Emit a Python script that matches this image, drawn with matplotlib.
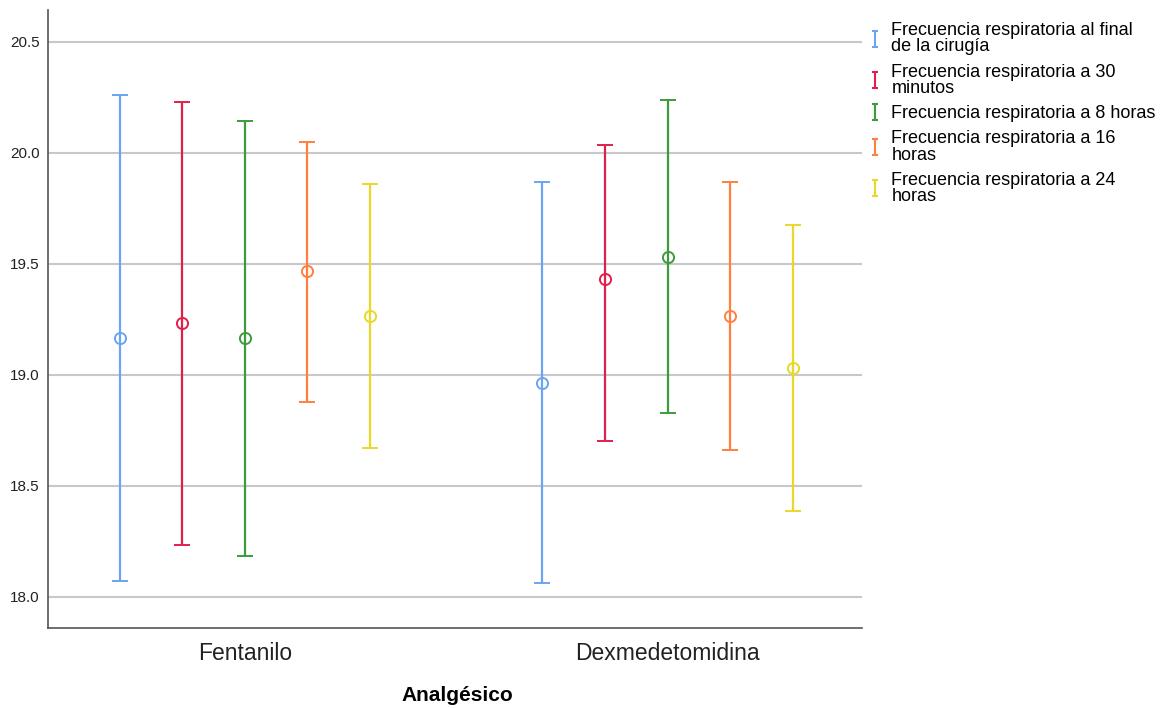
import numpy as np
import matplotlib.pyplot as plt
from matplotlib.lines import Line2D
from matplotlib.path import Path

plt.rcParams['font.family'] = ['Liberation Sans', 'DejaVu Sans']

# datos
grupos = ["Fentanilo", "Dexmedetomidina"]
series = ["Frecuencia respiratoria al final\nde la cirugía",
          "Frecuencia respiratoria a 30\nminutos",
          "Frecuencia respiratoria a 8 horas",
          "Frecuencia respiratoria a 16\nhoras",
          "Frecuencia respiratoria a 24\nhoras"]
media = [[19.167, 18.964],
         [19.234, 19.432],
         [19.167, 19.532],
         [19.468, 19.266],
         [19.266, 19.032]]
limite_sup = [[20.261, 19.869],
              [20.230, 20.036],
              [20.144, 20.239],
              [20.050, 19.869],
              [19.860, 19.676]]
limite_inf = [[18.072, 18.063],
              [18.234, 18.703],
              [18.185, 18.829],
              [18.878, 18.662],
              [18.671, 18.387]]
colores = ["#6aa4f2", "#e0204a", "#3d9a3d", "#ff7f40", "#e8d828"]

fig = plt.figure(figsize=(11.64, 7.08), dpi=100)
ax = fig.add_axes([0.0412, 0.113, 0.699, 0.873])

x = np.arange(len(grupos))
desp = 0.148
for i in range(len(series)):
    m = np.array(media[i])
    sup = np.array(limite_sup[i])
    inf = np.array(limite_inf[i])
    xi = x + (i - 2) * desp
    ax.errorbar(xi, m, yerr=[m - inf, sup - m], fmt='o', color=colores[i],
                mfc='none', mec=colores[i], ms=8, mew=1.4, elinewidth=1.6,
                capsize=5.5, capthick=1.6, zorder=3)

ax.set_xlim(-0.466, 1.459)
ax.set_ylim(17.86, 20.644)
ax.set_yticks([18.0, 18.5, 19.0, 19.5, 20.0, 20.5])
ax.set_yticklabels(["18.0", "18.5", "19.0", "19.5", "20.0", "20.5"], fontsize=11)
ax.set_xticks(x)
ax.set_xticklabels(grupos, fontsize=16.5)
ax.tick_params(axis='both', length=0, pad=6, colors='#222222')
ax.tick_params(axis='x', pad=10)
ax.yaxis.grid(True, color='#c8c8c8', lw=1.5)
ax.set_axisbelow(True)
for s in ['top', 'right']:
    ax.spines[s].set_visible(False)
for s in ['left', 'bottom']:
    ax.spines[s].set_color('#555555')
    ax.spines[s].set_linewidth(1.2)
fig.text(0.3925, 0.004, "Analgésico", fontsize=15, fontweight='bold',
         ha='center', va='bottom')

# símbolo de barra de error para la leyenda
ibar = Path([(-0.45, 1), (0.45, 1), (0, 1), (0, -1), (-0.45, -1), (0.45, -1)],
            [Path.MOVETO, Path.LINETO, Path.MOVETO, Path.LINETO, Path.MOVETO, Path.LINETO])
handles = [Line2D([], [], ls='none', marker=ibar, ms=11, mew=1.5, color=c, mfc='none')
           for c in colores]
leg = fig.legend(handles, series, loc='upper left', bbox_to_anchor=(0.741, 0.979),
                 frameon=False, fontsize=13, handlelength=0.6, handletextpad=0.6,
                 labelspacing=0.45, borderaxespad=0)
for t in leg.get_texts():
    t.set_linespacing(0.95)

fig.savefig("out.png", dpi=100)
